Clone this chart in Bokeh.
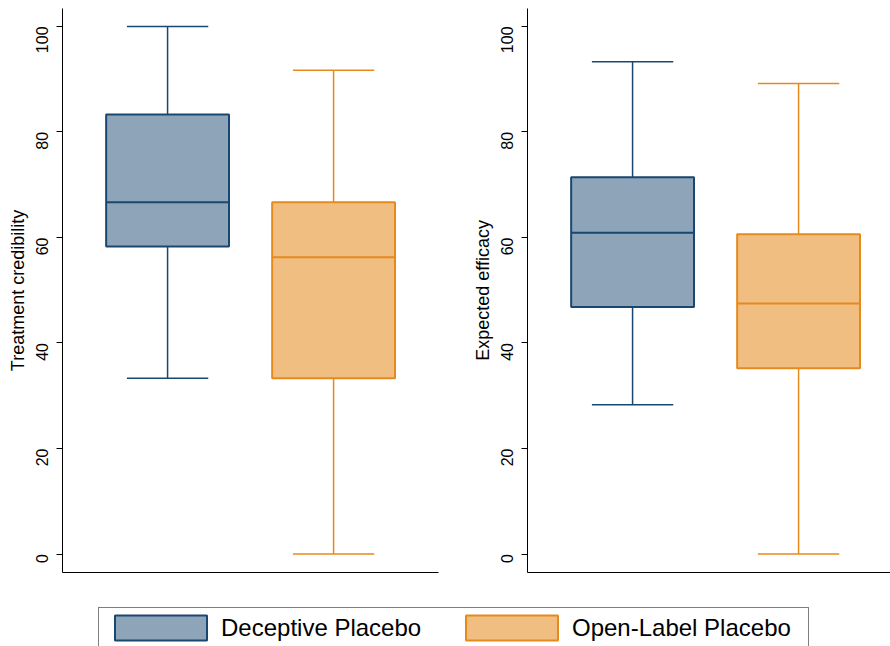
import math
import numpy as np
from bokeh.plotting import figure
from bokeh.models import Range1d, FixedTicker, ColumnDataSource, Legend, LegendItem
from bokeh.layouts import column, row
from bokeh.embed import file_html
from bokeh.resources import INLINE

# ---------------- data ----------------
groups = ["Deceptive Placebo", "Open-Label Placebo"]
y_ticks = [0, 20, 40, 60, 80, 100]

cred_lower = [33.3, 0.0]
cred_q1 = [58.3, 33.3]
cred_median = [66.7, 56.25]
cred_q3 = [83.3, 66.7]
cred_upper = [100.0, 91.7]

eff_lower = [28.3, 0.0]
eff_q1 = [46.8, 35.2]
eff_median = [60.9, 47.5]
eff_q3 = [71.4, 60.6]
eff_upper = [93.3, 89.2]

# ---------------- style ----------------
FONT = "Liberation Sans"
LINE_COLORS = ["#1A476F", "#E68A1E"]
FILL_COLORS = ["#8EA4B9", "#F0BE80"]
BOX_W = 0.74
CAP_W = 0.49
X_START = 0.367
PX_PER_UNIT = 166.0


def panel(ylabel, lower, q1, med, q3, upper, frame_w, border_left, border_right):
    x = np.arange(1, len(groups) + 1, dtype=float)
    src = ColumnDataSource(dict(
        x=x, lower=lower, q1=q1, med=med, q3=q3, upper=upper,
        box_l=x - BOX_W / 2, box_r=x + BOX_W / 2,
        cap_l=x - CAP_W / 2, cap_r=x + CAP_W / 2,
        lc=LINE_COLORS, fc=FILL_COLORS))
    p = figure(frame_width=frame_w, frame_height=564,
               x_range=Range1d(X_START, X_START + frame_w / PX_PER_UNIT),
               y_range=Range1d(-3.5, 103.4),
               output_backend="svg", toolbar_location=None,
               min_border_left=border_left, min_border_right=border_right,
               min_border_top=8, min_border_bottom=8)
    p.outline_line_color = None
    p.xgrid.visible = False
    p.ygrid.visible = False
    p.background_fill_color = "white"
    p.border_fill_color = "white"

    # whiskers
    p.segment(x0="x", y0="q3", x1="x", y1="upper", line_color="lc", line_width=1.5, source=src)
    p.segment(x0="x", y0="lower", x1="x", y1="q1", line_color="lc", line_width=1.5, source=src)
    # caps
    p.segment(x0="cap_l", y0="upper", x1="cap_r", y1="upper", line_color="lc", line_width=1.5, source=src)
    p.segment(x0="cap_l", y0="lower", x1="cap_r", y1="lower", line_color="lc", line_width=1.5, source=src)
    # boxes
    p.vbar(x="x", width=BOX_W, bottom="q1", top="q3", fill_color="fc", line_color="lc",
           line_width=2, source=src)
    # medians
    p.segment(x0="box_l", y0="med", x1="box_r", y1="med", line_color="lc", line_width=2, source=src)

    # y axis
    yax = p.yaxis[0]
    yax.ticker = FixedTicker(ticks=y_ticks)
    yax.minor_tick_line_color = None
    yax.major_tick_in = 0
    yax.major_tick_out = 6
    yax.major_tick_line_color = "black"
    yax.axis_line_color = "black"
    yax.major_label_orientation = math.pi / 2
    yax.major_label_text_font = FONT
    yax.major_label_text_font_size = "16px"
    yax.major_label_text_color = "black"
    yax.major_label_standoff = 14
    yax.axis_label = ylabel
    yax.axis_label_text_font = FONT
    yax.axis_label_text_font_size = "18px"
    yax.axis_label_text_font_style = "normal"
    yax.axis_label_text_color = "black"
    yax.axis_label_standoff = 0

    # x axis: line only
    xax = p.xaxis[0]
    xax.ticker = FixedTicker(ticks=[])
    xax.major_tick_out = 0
    xax.major_tick_in = 0
    xax.minor_tick_line_color = None
    xax.major_label_text_font_size = "0px"
    xax.axis_line_color = "black"
    return p


left = panel("Treatment credibility", cred_lower, cred_q1, cred_median, cred_q3, cred_upper, 376, 62, 31)
right = panel("Expected efficacy", eff_lower, eff_q1, eff_median, eff_q3, eff_upper, 363, 58, 0)

# ---------------- legend ----------------
leg = figure(width=890, height=66, x_range=Range1d(0, 1), y_range=Range1d(0, 1),
             output_backend="svg", toolbar_location=None,
             min_border_left=71, min_border_right=0, min_border_top=0, min_border_bottom=0)
leg.axis.visible = False
leg.xgrid.visible = False
leg.ygrid.visible = False
leg.outline_line_color = None

items = []
for name, lc, fc in zip(groups, LINE_COLORS, FILL_COLORS):
    proxy = ColumnDataSource(dict(x=[float("nan")], top=[float("nan")]))
    r = leg.vbar(x="x", top="top", width=1, fill_color=fc, line_color=lc, line_width=2, source=proxy)
    items.append(LegendItem(label=name, renderers=[r]))

legend = Legend(items=items, location="top_left", orientation="horizontal",
                margin=27, padding=4, spacing=1, glyph_width=115, glyph_height=31,
                label_standoff=3, label_width=232,
                label_text_font_size="24px", label_text_font=FONT,
                label_text_color="black",
                border_line_color="black", border_line_width=1,
                background_fill_color="white", background_fill_alpha=1)
leg.add_layout(legend)

layout = column(row(left, right), leg)

with open("out.html", "w") as f:
    f.write(file_html(layout, INLINE))
